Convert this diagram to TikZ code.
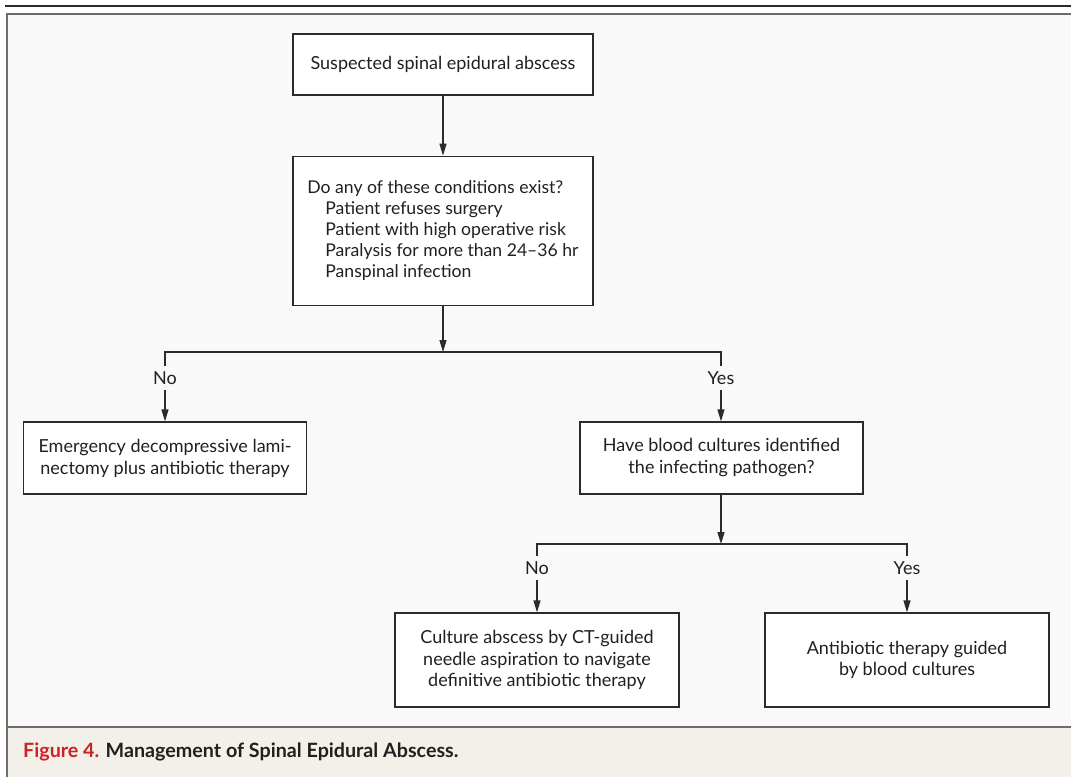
\documentclass[tikz,border=0pt]{standalone}
\usepackage{fontspec}
\setmainfont{Lato}
\usepackage{tikz}
\usetikzlibrary{positioning}
\usetikzlibrary{arrows.meta}
\definecolor{txtC}{HTML}{231F20}
\definecolor{lineC}{HTML}{2B2B2B}
\definecolor{frmC}{HTML}{6D6D6D}
\definecolor{panelC}{HTML}{F9F9F9}
\definecolor{capC}{HTML}{F3F0E9}
\definecolor{figC}{HTML}{CE2127}
\tikzstyle{qbs}=[draw=lineC, fill=white, line width=1.3pt, shape=rectangle, minimum width=300pt, minimum height=61pt, inner sep=0pt, align=center, text=txtC, font=\fontsize{18}{21}\selectfont]
\tikzstyle{qbl}=[draw=lineC, fill=white, line width=1.3pt, shape=rectangle, minimum width=300pt, minimum height=149pt, inner sep=0pt, align=left, text=txtC, font=\fontsize{17.6}{21}\selectfont]
\tikzstyle{qbm}=[draw=lineC, fill=white, line width=1.3pt, shape=rectangle, minimum width=283pt, minimum height=72pt, inner sep=0pt, align=center, text=txtC, font=\fontsize{18}{22}\selectfont]
\tikzstyle{qbb}=[draw=lineC, fill=white, line width=1.3pt, shape=rectangle, minimum width=284pt, minimum height=94pt, inner sep=0pt, align=center, text=txtC, font=\fontsize{18}{21.5}\selectfont]
\tikzstyle{lbx}=[shape=rectangle, inner sep=6pt, text height=12pt, text depth=0pt, text=txtC, font=\fontsize{18}{21}\selectfont]
\tikzstyle{fline}=[line width=1.3pt, color=lineC]
\tikzstyle{farrow}=[line width=1.3pt, -{Triangle[length=12pt,width=7pt]}, color=lineC]
\tikzstyle{frm}=[line width=2.5pt, color=frmC]
\def\qbs{\node[style=qbs]}
\def\qbl{\node[style=qbl]}
\def\qbm{\node[style=qbm]}
\def\qbb{\node[style=qbb]}
\def\lbx{\node[style=lbx]}
\def\fline{\draw[style=fline]}
\def\farrow{\draw[style=farrow]}
\newcommand{\ind}{\hspace*{18pt}}

\begin{document}
\begin{tikzpicture}[x=1pt, y=-1pt]
      \useasboundingbox (0,0) rectangle (1071,777);
      % panel
      \fill[white] (0,0) rectangle (1071,777);
      \fill[panelC] (7,14) rectangle (1071,727);
      \fill[capC] (7,727) rectangle (1071,777);
      \draw[line width=1.5pt, color=lineC] (5,6) -- (1071,6);
      \draw[style=frm] (1071,14) -- (7,14) -- (7,777);
      \draw[style=frm] (7,727) -- (1071,727);

      % top
      \qbs (susp) at (443,64.5) {Suspected spinal epidural abscess};
      \qbl (cond) [below=60pt of susp] {Do any of these conditions exist?\\
            \ind Patient refuses surgery\\
            \ind Patient with high operative risk\\
            \ind Paralysis for more than 24--36 hr\\
            \ind Panspinal infection};

      \farrow (susp) -- (cond);
      % first split
      \coordinate (splitA) at (443,352);
      \lbx (noA)  at (165,378) {No};
      \lbx (yesA) at (721,378) {Yes};
      \farrow (cond) -- (splitA);
      \fline (noA) |- (splitA) -| (yesA);

      \qbm (emerg) at (165,458)   {Emergency decompressive lami-\\nectomy plus antibiotic therapy};
      \qbm (blood) at (721.5,458) {Have blood cultures identified\\the infecting pathogen?};

      \farrow (noA.south)  -- (emerg.north);
      \farrow (yesA.south) -- (blood.north -| yesA.south);
      % second split
      \coordinate (splitB) at (721,544);
      \lbx (noB)  at (537,568) {No};
      \lbx (yesB) at (907,568) {Yes};
      \farrow (blood.south -| splitB) -- (splitB);
      \fline (noB) |- (splitB) -| (yesB);

      \qbb (ctasp) at (537,660) {Culture abscess by CT-guided\\needle aspiration to navigate\\definitive antibiotic therapy};
      \qbb (abx)   at (907,660) {Antibiotic therapy guided\\by blood cultures};

      \farrow (noB.south)  -- (ctasp.north);
      \farrow (yesB.south) -- (abx.north);

      % caption
      \node (capt) [anchor=base west, inner sep=0pt, text=txtC, font=\fontsize{19.7}{21}\selectfont\bfseries] at (23,757)
            {\textcolor{figC}{Figure 4.} Management of Spinal Epidural Abscess.};
\end{tikzpicture}
\end{document}
